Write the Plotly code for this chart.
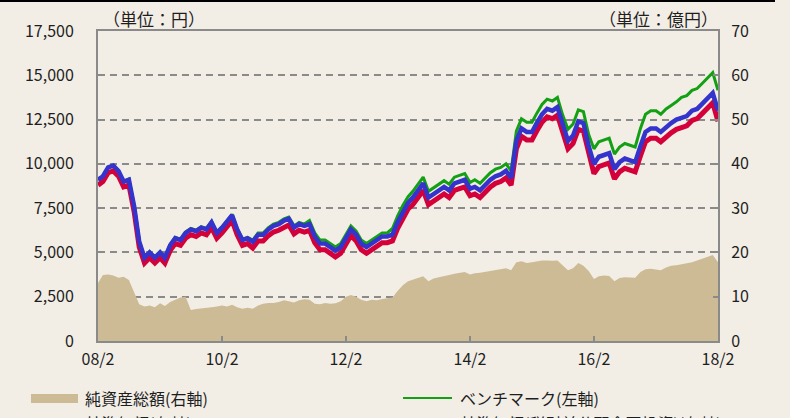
import pandas as pd
import plotly.graph_objects as go

# Monthly observations, Feb 2008 - Feb 2018
months = pd.date_range("2008-02-01", "2018-02-01", freq="MS")

# ベンチマーク (円)
benchmark = [
    9100, 9300, 9800, 9900, 9600, 9000, 9150, 7650, 5650, 4750,
    5050, 4750, 5050, 4750, 5450, 5850, 5750, 6150, 6350, 6250,
    6450, 6350, 6750, 6150, 6450, 6750, 7150, 6350, 5750, 5850,
    5700, 6100, 6100, 6400, 6600, 6700, 6900, 7000, 6500, 6700,
    6600, 6800, 6100, 5700, 5700, 5500, 5300, 5500, 6000, 6500,
    6200, 5700, 5500, 5700, 5900, 6100, 6100, 6350, 7050, 7650,
    8150, 8450, 8850, 9250, 8450, 8650, 8850, 9050, 8850, 9250,
    9350, 9450, 8950, 9100, 8900, 9200, 9500, 9700, 9800, 10000,
    9600, 11850, 12550, 12350, 12350, 12850, 13350, 13650, 13550, 13750,
    12750, 11950, 12250, 13050, 12950, 11650, 10850, 11250, 11350, 11450,
    10550, 10950, 11150, 11050, 10950, 12000, 12800, 13000, 13000, 12800,
    13100, 13300, 13500, 13750, 13850, 14150, 14250, 14550, 14850, 15150,
    14150,
]

# 基準価額(税引前分配金再投資) (円)
nav_reinvested = [
    9100, 9300, 9800, 9900, 9600, 9000, 9100, 7600, 5600, 4700,
    5000, 4700, 5000, 4700, 5400, 5800, 5700, 6100, 6300, 6200,
    6400, 6300, 6700, 6100, 6400, 6700, 7100, 6300, 5700, 5800,
    5600, 6000, 6000, 6300, 6500, 6600, 6800, 6900, 6400, 6600,
    6500, 6600, 5900, 5500, 5500, 5300, 5100, 5300, 5800, 6300,
    6000, 5500, 5300, 5500, 5700, 5900, 5900, 6000, 6700, 7300,
    7800, 8100, 8500, 8900, 8100, 8300, 8500, 8700, 8500, 8900,
    9000, 9100, 8600, 8700, 8500, 8800, 9100, 9300, 9400, 9600,
    9200, 11300, 12000, 11800, 11800, 12300, 12800, 13100, 13000, 13200,
    12200, 11300, 11600, 12400, 12300, 11000, 10000, 10400, 10500, 10600,
    9700, 10100, 10300, 10200, 10100, 11000, 11800, 12000, 12000, 11800,
    12100, 12300, 12500, 12600, 12700, 13000, 13100, 13400, 13700, 14000,
    13000,
]

# 基準価額 (円)
nav = [
    8800, 9000, 9500, 9600, 9300, 8700, 8800, 7300, 5300, 4400,
    4700, 4400, 4700, 4400, 5100, 5500, 5400, 5800, 6000, 5900,
    6100, 6000, 6400, 5800, 6100, 6400, 6800, 6000, 5400, 5500,
    5250, 5650, 5650, 5950, 6150, 6250, 6450, 6550, 6050, 6250,
    6150, 6250, 5550, 5150, 5150, 4950, 4750, 4950, 5450, 5950,
    5650, 5150, 4950, 5150, 5350, 5550, 5550, 5650, 6350, 6950,
    7450, 7700, 8100, 8500, 7700, 7900, 8100, 8300, 8100, 8500,
    8600, 8700, 8200, 8300, 8100, 8400, 8700, 8900, 9000, 9200,
    8800, 10850, 11550, 11350, 11350, 11850, 12350, 12650, 12550, 12750,
    11750, 10850, 11150, 11950, 11850, 10550, 9450, 9850, 9950, 10050,
    9150, 9550, 9750, 9650, 9550, 10450, 11250, 11450, 11450, 11250,
    11550, 11750, 11950, 12050, 12150, 12450, 12550, 12850, 13150, 13450,
    12400,
]

# 純資産総額 (億円)
net_assets = [
    13.1, 14.9, 15.0, 14.8, 14.3, 14.5, 13.8, 10.8, 8.3, 7.8,
    8.0, 7.6, 8.5, 7.9, 8.8, 9.3, 9.8, 10.0, 7.0, 7.2,
    7.3, 7.4, 7.6, 7.8, 8.0, 7.8, 8.2, 7.6, 7.3, 7.5,
    7.3, 8.0, 8.4, 8.6, 8.6, 8.8, 9.2, 9.0, 8.7, 9.2,
    9.4, 9.3, 8.4, 8.3, 8.6, 8.4, 8.5, 9.0, 10.0, 10.4,
    10.0, 9.3, 9.0, 9.3, 9.2, 9.5, 9.6, 9.8, 11.3, 12.6,
    13.5, 13.8, 14.3, 14.6, 13.5, 14.1, 14.4, 14.6, 14.9, 15.2,
    15.4, 15.6, 15.0, 15.3, 15.4, 15.6, 15.8, 16.0, 16.2, 16.4,
    16.0, 17.8, 18.0, 17.6, 17.8, 18.0, 18.2, 18.2, 18.1, 18.2,
    17.2, 16.0, 16.4, 17.6, 17.0, 15.8, 14.0, 14.6, 14.8, 14.7,
    13.5, 14.2, 14.4, 14.4, 14.3, 15.6, 16.2, 16.3, 16.2, 16.0,
    16.6, 17.0, 17.1, 17.3, 17.6, 17.8, 18.2, 18.6, 19.0, 19.4,
    17.8,
]

x_tick_dates = ["2008-02-01", "2010-02-01", "2012-02-01",
                "2014-02-01", "2016-02-01", "2018-02-01"]
x_tick_text = ["08/2", "10/2", "12/2", "14/2", "16/2", "18/2"]
yen_ticks = [0, 2500, 5000, 7500, 10000, 12500, 15000, 17500]
oku_ticks = [0, 10, 20, 30, 40, 50, 60, 70]

legend_labels = ["純資産総額(右軸)", "ベンチマーク(左軸)",
                 "基準価額(左軸)", "基準価額(税引前分配金再投資)(左軸)"]

BG = "#F2EEE6"
TAN = "#CDBB95"
GREEN = "#14A014"
BLUE = "#3434CC"
RED = "#D4003A"
AXIS = "#8A8A8A"
FONT = "Noto Sans CJK JP"
TXT = "#1E1E1E"

fig = go.Figure()

# net assets area on the primary axis (drawn underneath the price lines)
fig.add_trace(go.Scatter(
    x=months, y=net_assets, yaxis="y", mode="lines",
    line=dict(width=0, color=TAN), fill="tozeroy", fillcolor=TAN,
    name=legend_labels[0], showlegend=False, hoverinfo="skip"))

fig.add_trace(go.Scatter(
    x=months, y=benchmark, yaxis="y2", mode="lines",
    line=dict(width=3, color=GREEN), name=legend_labels[1], showlegend=False))
fig.add_trace(go.Scatter(
    x=months, y=nav, yaxis="y2", mode="lines",
    line=dict(width=5, color=RED), name=legend_labels[2], showlegend=False))
fig.add_trace(go.Scatter(
    x=months, y=nav_reinvested, yaxis="y2", mode="lines",
    line=dict(width=4.5, color=BLUE), name=legend_labels[3], showlegend=False))

PL, PR, PT, PB = 98, 718, 31, 341
W, H = 790, 418


def px(xp):
    return (xp - PL) / (PR - PL)


def py(yp):
    return (PB - yp) / (PB - PT)


fig.update_layout(
    width=W, height=H,
    margin=dict(l=PL, r=W - PR, t=PT, b=H - PB),
    paper_bgcolor=BG, plot_bgcolor=BG,
    font=dict(family=FONT, size=16, color=TXT),
    showlegend=False,
    xaxis=dict(
        type="date", range=["2008-02-01", "2018-02-01"],
        tickvals=x_tick_dates, ticktext=x_tick_text,
        ticks="inside", ticklen=5, tickwidth=2, tickcolor=AXIS,
        showline=True, linecolor=AXIS, linewidth=2, mirror=True,
        showgrid=False, zeroline=False,
        tickfont=dict(size=16, color=TXT), ticklabelstandoff=3,
    ),
    yaxis=dict(
        side="right", range=[0, 70], tickvals=oku_ticks,
        ticks="inside", ticklen=5, tickwidth=2, tickcolor=AXIS,
        showline=True, linecolor=AXIS, linewidth=2,
        showgrid=True, gridcolor=AXIS, gridwidth=2, griddash="7px,5px",
        zeroline=False, tickfont=dict(size=16, color=TXT),
        ticklabelstandoff=8,
    ),
    yaxis2=dict(
        overlaying="y", side="left", range=[0, 17500], tickvals=yen_ticks,
        tickformat=",d", ticks="", showline=True, linecolor=AXIS,
        linewidth=2, showgrid=False, zeroline=False,
        tickfont=dict(size=16, color=TXT), ticklabelstandoff=19,
    ),
)

annotations = [
    dict(text="（単位：円）", x=px(154), y=py(19)),
    dict(text="（単位：億円）", x=px(658), y=py(19)),
]
for a in annotations:
    a.update(xref="paper", yref="paper", xanchor="center", yanchor="middle",
             showarrow=False, font=dict(size=17, color=TXT))

legend_rows = [
    (legend_labels[0], 83, 398), (legend_labels[1], 458, 398),
    (legend_labels[2], 83, 423), (legend_labels[3], 458, 423),
]
for text, xl, yc in legend_rows:
    annotations.append(dict(
        text=text, x=px(xl), y=py(yc), xref="paper", yref="paper",
        xanchor="left", yanchor="middle", showarrow=False,
        font=dict(size=16, color=TXT)))

shapes = [
    # rule across the top of the page
    dict(type="line", xref="paper", yref="paper",
         x0=px(0), x1=px(775), y0=py(1), y1=py(1),
         line=dict(color="#000000", width=2)),
    # legend keys
    dict(type="rect", xref="paper", yref="paper",
         x0=px(31), x1=px(78), y0=py(394), y1=py(403),
         fillcolor=TAN, line=dict(width=0)),
    dict(type="line", xref="paper", yref="paper",
         x0=px(403), x1=px(452), y0=py(398), y1=py(398),
         line=dict(color=GREEN, width=2)),
    dict(type="line", xref="paper", yref="paper",
         x0=px(31), x1=px(78), y0=py(423), y1=py(423),
         line=dict(color=RED, width=2)),
    dict(type="line", xref="paper", yref="paper",
         x0=px(403), x1=px(452), y0=py(423), y1=py(423),
         line=dict(color=BLUE, width=2)),
]

fig.update_layout(annotations=annotations, shapes=shapes)

fig.write_html("out.html")
